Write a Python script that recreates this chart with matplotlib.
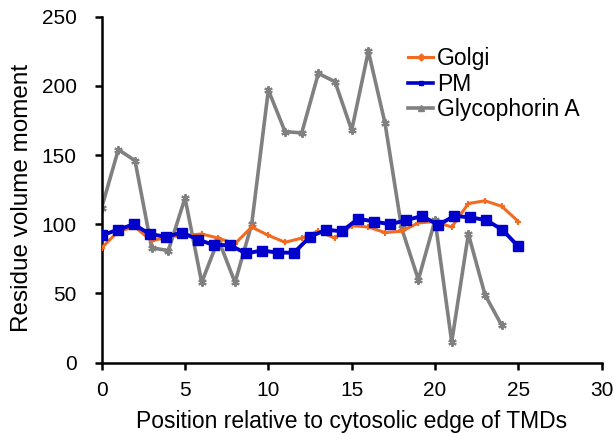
import matplotlib
matplotlib.use("Agg")
import matplotlib.pyplot as plt
from matplotlib.lines import Line2D

plt.rcParams['font.family'] = ['Liberation Sans', 'DejaVu Sans']

golgi_x = list(range(26))
golgi_y = [83, 95, 98, 88, 91, 92, 93, 90, 86, 98, 92, 87, 90, 95, 90, 99,
           98, 94, 95, 101, 102, 98, 115, 117, 113, 102]

pm_x = [0, 0.96, 1.92, 2.88, 3.85, 4.81, 5.77, 6.73, 7.69, 8.65, 9.62, 10.58,
        11.54, 12.5, 13.46, 14.42, 15.38, 16.35, 17.31, 18.27, 19.23, 20.19,
        21.15, 22.12, 23.08, 24.04, 25]
pm_y = [92, 96, 100, 93, 91, 94, 89, 85, 85, 79, 81, 79.5, 79.5, 91, 96, 95,
        104, 102, 100, 103, 106, 99.5, 106, 105, 103, 96, 84]

gpa_x = list(range(25))
gpa_y = [112, 154, 146, 83, 81, 119, 58, 89, 58, 100, 197, 167, 166, 209, 203,
         168, 225, 173, 97, 60, 103, 15, 93, 49, 27]

x_ticks = [0, 5, 10, 15, 20, 25, 30]
y_ticks = [0, 50, 100, 150, 200, 250]

c_golgi = '#F26B21'
c_pm = '#0000CC'
c_gpa = '#808080'

fig = plt.figure(figsize=(6.14, 4.33), dpi=100)
ax = fig.add_axes([0.1656, 0.1624, 0.8144, 0.799])

ax.plot(gpa_x, gpa_y, color=c_gpa, lw=2.6, marker=(6, 2, 0), ms=6, mew=1.5, zorder=2)
ax.plot(golgi_x, golgi_y, color=c_golgi, lw=2.2, marker='+', ms=5, mew=1.5, zorder=3)
ax.plot(pm_x, pm_y, color=c_pm, lw=2.8, marker='s', ms=7.5, zorder=4)

ax.set_xlim(0, 30)
ax.set_ylim(0, 250)
ax.set_xticks(x_ticks)
ax.set_yticks(y_ticks)
ax.spines['top'].set_visible(False)
ax.spines['right'].set_visible(False)
for s in ('left', 'bottom'):
    ax.spines[s].set_linewidth(1.8)
    ax.spines[s].set_color('black')
ax.tick_params(direction='out', length=5, width=1.8, labelsize=15)
ax.tick_params(axis='y', pad=13)
ax.tick_params(axis='x', pad=8)

ax.set_xlabel('Position relative to cytosolic edge of TMDs', fontsize=16.5)
ax.set_ylabel('Residue volume moment', fontsize=17.5)
ax.xaxis.set_label_coords(0.5, -0.1705)
ax.xaxis.label.set_va('center')
ax.yaxis.set_label_coords(-0.16, 0.476)
ax.yaxis.label.set_va('center')

handles = [
    Line2D([], [], color=c_golgi, lw=2.2, marker='D', ms=3.5),
    Line2D([], [], color=c_pm, lw=2.6, marker='s', ms=3.5),
    Line2D([], [], color=c_gpa, lw=2.6, marker='^', ms=4),
]
fig.legend(handles, ['Golgi', 'PM', 'Glycophorin A'], loc='upper left',
           bbox_to_anchor=(0.646, 0.917), frameon=False, fontsize=16.5,
           handlelength=1.1, handletextpad=0.15, labelspacing=0.1, borderpad=0)

fig.savefig('out.png', dpi=100)
